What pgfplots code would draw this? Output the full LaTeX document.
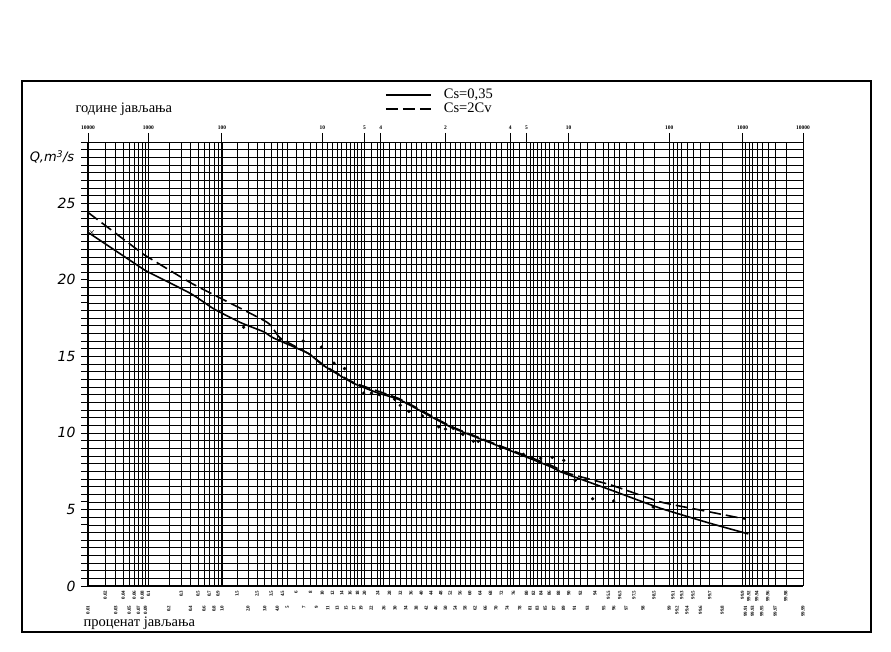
\documentclass[border=0pt]{standalone}
\usepackage{fontspec}
\setmainfont{Liberation Serif}
\newfontfamily\handfont{DejaVu Sans}
\usepackage{pgfplots}
\pgfplotsset{compat=1.18}

\begin{document}
\begin{tikzpicture}[x=1pt,y=1pt]
\useasboundingbox (0,0) rectangle (891,652);
\draw[line width=1.6pt] (22,20) rectangle (871,571);

% top (return period) axis
\begin{axis}[
  at={(88pt,66pt)}, anchor=south west,
  scale only axis, width=715pt, height=444pt,
  xmin=-3.719, xmax=3.719, ymin=0, ymax=29,
  axis x line*=top, hide y axis,
  axis line style={line width=0.6pt,-},
  xtick={-3.719,-3.0902,-2.3263,-1.2816,-0.8416,-0.6745,0,0.6745,0.8416,1.2816,2.3263,3.0902,3.719},
  xticklabels={10000,1000,100,10,5,4,2,4,5,10,100,1000,10000},
  tick align=outside, major tick length=9pt,
  tick style={black,line width=0.9pt},
  xticklabel style={font=\fontsize{5.5}{5.5}\selectfont\bfseries},
  xmajorgrids, major grid style={black,line width=1.0pt},
]
\end{axis}

\begin{axis}[
  at={(88pt,66pt)}, anchor=south west,
  scale only axis, width=715pt, height=444pt,
  xmin=-3.719, xmax=3.719, ymin=0, ymax=29,
  axis x line*=bottom, axis y line*=left,
  axis line style={line width=1.3pt,-},
  ytick={0,5,10,15,20,25},
  minor ytick={0,0.5,...,29},
  grid=both,
  major grid style={black,line width=0.5pt},
  minor grid style={black,line width=0.5pt},
  tick align=outside,
  major tick length=7pt, minor tick length=7pt,
  tick style={black,line width=0.6pt},
  xtick style={draw=none},
  /pgf/number format/assume math mode=true,
  yticklabel style={font=\handfont\itshape\fontsize{14}{14}\selectfont, xshift=-2pt},
  xtick={-3.7190,-3.4316,-3.2905,-3.1947,-3.1214,-2.8782,-2.6521,-2.5121,-2.4089,-2.3263,-2.0537,-1.8808,-1.7507,-1.6449,-1.4758,-1.3408,-1.2265,-1.1264,-1.0364,-0.9542,-0.8779,-0.7722,-0.6433,-0.5244,-0.4125,-0.3055,-0.2019,-0.1004,0,0.1004,0.2019,0.3055,0.4125,0.5244,0.6433,0.7722,0.8779,0.9542,1.0364,1.1264,1.2265,1.3408,1.4758,1.6449,1.7507,1.8808,2.0537,2.3263,2.4089,2.5121,2.6521,2.8782,3.1214,3.1947,3.2905,3.4316,3.7190},
  xticklabels={0.01,0.03,0.05,0.07,0.09,0.2,0.4,0.6,0.8,1.0,2.0,3.0,4.0,5,7,9,11,13,15,17,19,22,26,30,34,38,42,46,50,54,58,62,66,70,74,78,81,83,85,87,89,91,93,95,96,97,98,99,99.2,99.4,99.6,99.8,99.91,99.93,99.95,99.97,99.99},
  extra x ticks={-3.5401,-3.3528,-3.2389,-3.1559,-3.0902,-2.7478,-2.5758,-2.4573,-2.3656,-2.1701,-1.9600,-1.8119,-1.6954,-1.5548,-1.4051,-1.2816,-1.1750,-1.0803,-0.9945,-0.9154,-0.8416,-0.7063,-0.5828,-0.4677,-0.3585,-0.2533,-0.1510,-0.0502,0.0502,0.1510,0.2533,0.3585,0.4677,0.5828,0.7063,0.8416,0.9154,0.9945,1.0803,1.1750,1.2816,1.4051,1.5548,1.6954,1.8119,1.9600,2.1701,2.3656,2.4573,2.5758,2.7478,3.0902,3.1559,3.2389,3.3528,3.5401},
  extra x tick labels={0.02,0.04,0.06,0.08,0.1,0.3,0.5,0.7,0.9,1.5,2.5,3.5,4.5,6,8,10,12,14,16,18,20,24,28,32,36,40,44,48,52,56,60,64,68,72,76,80,82,84,86,88,90,92,94,95.5,96.5,97.5,98.5,99.1,99.3,99.5,99.7,99.9,99.92,99.94,99.96,99.98},
  extra x tick style={grid=major, xtick style={draw=none}, xticklabel style={xshift=15pt}},
  xticklabel style={rotate=90, anchor=east, font=\fontsize{5}{5}\selectfont\bfseries, xshift=-9pt},
  legend image code/.code={\draw[#1,mark=none,line width=2pt] (0pt,0pt) -- (45pt,0pt);},
  legend style={draw=none, fill=none, at={(0.415,1.123)}, anchor=north west,
    font=\fontsize{14.5}{14.5}\selectfont, inner sep=0pt, column sep=12pt, row sep=0pt,
    nodes={inner sep=0pt, text height=10.5pt, text depth=3.5pt}},
  legend cell align=left,
]
\addplot[black, line width=1.6pt, smooth, tension=0.3] coordinates {
(-3.719,23.1) (-3.17,20.8) (-3.09,20.5) (-2.65,19.1) (-2.41,18.1) (-2.13,17.2)
(-1.89,16.6) (-1.79,16.2) (-1.43,15.2) (-1.27,14.4) (-0.96,13.25) (-0.70,12.6)
(-0.47,12.14) (0.05,10.4) (0.57,9.1) (1.09,7.8) (1.20,7.45) (1.72,6.27)
(2.23,5.09) (2.75,4.1) (3.15,3.4)};
\addlegendentry{Cs=0,35}
\addplot[black, line width=1.6pt, dash pattern=on 12pt off 5pt, smooth, tension=0.3] coordinates {
(-3.719,24.4) (-3.17,21.8) (-3.10,21.5) (-2.65,19.8) (-2.31,18.7) (-1.85,17.2)
(-1.72,16.2) (-1.43,15.2) (-1.27,14.45) (-0.96,13.3) (-0.47,12.2) (0.05,10.45)
(0.57,9.15) (1.09,7.9) (1.27,7.37) (1.72,6.6) (2.23,5.5) (2.65,4.96) (3.12,4.37)};
\addlegendentry{Cs=2Cv}
\addplot[only marks, mark=*, mark size=1.5pt, black, forget plot] coordinates {
(-2.10,16.9) (-1.72,16.1) (-1.48,16.0) (-1.29,15.6) (-1.16,14.55) (-1.05,14.2)
(-0.85,12.6) (-0.77,12.6) (-0.69,12.5) (-0.53,12.2) (-0.47,11.8) (-0.38,11.4)
(-0.24,11.1) (-0.07,10.4) (0.00,10.25) (0.08,10.3) (0.18,9.9) (0.29,9.45)
(0.34,9.45) (0.57,9.0) (0.81,8.6) (0.90,8.4) (0.99,8.35) (1.11,8.4) (1.23,8.2)
(1.35,6.9) (1.53,5.7) (1.75,5.55) (2.16,5.16)};
\addplot[only marks, mark=x, mark size=3pt, black, thin, forget plot] coordinates {(-3.68,23.1)};
\end{axis}

\node[anchor=base west, font=\fontsize{14.5}{15}\selectfont] at (72,539) {године јављања};
\node[anchor=base west, font=\fontsize{14.5}{15}\selectfont] at (80,25) {проценат јављања};
\node[font=\handfont\itshape\fontsize{13}{13}\selectfont] at (52,495) {Q,m\textsuperscript{3}/s};
\end{tikzpicture}
\end{document}
